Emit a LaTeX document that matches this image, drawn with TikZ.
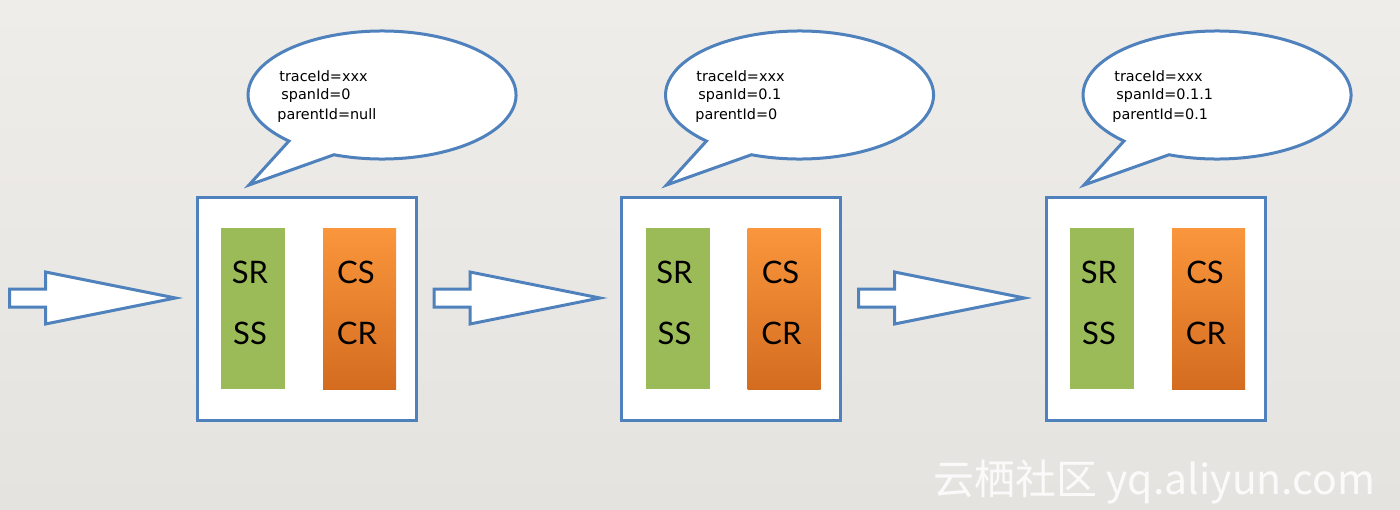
\documentclass[tikz,border=0pt]{standalone}
\usepackage{fontspec}
\setmainfont{Lato}
\newfontfamily\calloutfont{DejaVu Sans}
\newfontfamily\cjk{Noto Sans CJK SC}
\usetikzlibrary{calc}
\definecolor{bluel}{RGB}{79,129,189}
\definecolor{greenf}{RGB}{155,187,89}
\definecolor{orangetop}{RGB}{250,150,60}
\definecolor{orangebot}{RGB}{212,108,32}
\definecolor{bgtop}{RGB}{239,237,233}
\definecolor{bgbot}{RGB}{229,227,223}
\begin{document}
\begin{tikzpicture}[x=0.5pt,y=-0.5pt,
  frame/.style={draw=bluel, line width=1.5pt, fill=white, minimum width=109.5pt, minimum height=111.5pt, inner sep=0pt},
  srbox/.style={fill=greenf, minimum width=32pt, minimum height=80.5pt, inner sep=0pt},
  crbox/.style={top color=orangetop, bottom color=orangebot, minimum width=36.5pt, minimum height=80.5pt, inner sep=0pt},
  lbl/.style={font=\fontsize{15.5}{18}\selectfont, text=black, inner sep=0pt},
  callout/.style={draw=bluel, line width=1.5pt, fill=white},
  blockarrow/.style={draw=bluel, line width=1.5pt, fill=white, line join=miter},
  ctext/.style={font=\calloutfont\fontsize{7.2}{9}\selectfont, anchor=west, inner sep=0pt, text=black}
]
\shade[top color=bgtop, bottom color=bgbot] (0,0) rectangle (1400,509);
\useasboundingbox (0,0) rectangle (1400,509);

\foreach \i/\bo/\co/\ta/\sa/\pa/\tx/\sx/\px in {
  1/0/0/{traceId=xxx}/{spanId=0}/{parentId=null}/279/281/277,
  2/424.5/417.5/{traceId=xxx}/{spanId=0.1}/{parentId=0}/696/698/695,
  3/849/835/{traceId=xxx}/{spanId=0.1.1}/{parentId=0.1}/1114/1116/1112}{
  % box with span annotations
  \node[frame] (box\i) at (306.5+\bo,308.5) {};
  \node[srbox] (srb\i) at (253+\bo,308.5) {};
  \node[crbox] (crb\i) at (359.5+\bo,308.5) {};
  \node[lbl] (sr\i) at (250+\bo,272) {SR};
  \node[lbl] (ss\i) at (250+\bo,333) {SS};
  \node[lbl] (cs\i) at (356+\bo,272) {CS};
  \node[lbl] (cr\i) at (357+\bo,333) {CR};
  % block arrow pointing into the box
  \coordinate (tip\i) at ($(box\i.west)+(-20,-10.5)$);
  \draw[blockarrow] (tip\i) -- ++(-130,-26) -- ++(0,17) -- ++(-36,0) -- ++(0,18) -- ++(36,0) -- ++(0,17) -- cycle;
  % speech bubble
  \coordinate (bc\i) at (382+\co,95);
  \coordinate (tail\i) at (249+\co,185);
  \draw[callout] (tail\i) -- ($(bc\i)+(111:134 and 64)$) arc[start angle=111, end angle=-226, x radius=134, y radius=64] -- cycle;
  \node[ctext] (ti\i) at (\tx,76) {\ta};
  \node[ctext] (si\i) at (\sx,96) {\sa};
  \node[ctext] (pi\i) at (\px,116) {\pa};
}

\node[anchor=west, inner sep=0pt, font=\cjk\fontsize{20.5}{24}\selectfont, text=white, text opacity=0.85] (wm) at (933,482) {云栖社区 yq.aliyun.com};
\end{tikzpicture}
\end{document}
